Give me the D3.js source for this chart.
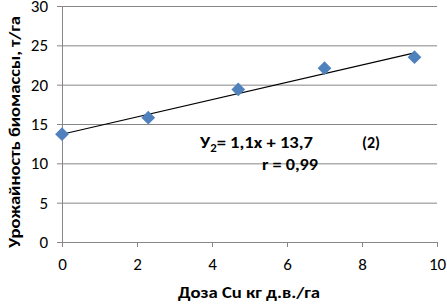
<!DOCTYPE html>
<html>
<head>
<meta charset="utf-8">
<script src="https://cdn.jsdelivr.net/npm/d3@7"></script>
<style>
  body { margin: 0; background: #fff; }
  svg text { font-family: Carlito, "Open Sans", "Noto Sans", sans-serif; }
</style>
</head>
<body>
<div id="chart"></div>
<script>
const doses = [0, 2.3, 4.7, 7.0, 9.4];
const yields = [13.7, 15.8, 19.4, 22.1, 23.5];
const xTicks = [0, 2, 4, 6, 8, 10];
const yTicks = [0, 5, 10, 15, 20, 25, 30];
const slope = 1.1;
const intercept = 13.7;

const width = 447, height = 304;
const margin = { top: 6, right: 10, bottom: 62, left: 62 };
const iw = 437 - margin.left;
const ih = 242 - margin.top;

const svg = d3.select('#chart').append('svg')
    .attr('width', width).attr('height', height);
const g = svg.append('g').attr('transform', `translate(${margin.left},${margin.top})`);

const x = d3.scaleLinear().domain([0, 10]).range([0, iw]);
const y = d3.scaleLinear().domain([0, 30]).range([ih, 0]);

// Gridlines
g.append('g')
    .call(d3.axisLeft(y).tickValues(yTicks).tickSize(-iw).tickFormat(''))
    .call((sel) => sel.selectAll('line').attr('stroke', '#878787'))
    .call((sel) => sel.select('.domain').remove());

// Axes
const styleAxis = (sel) => {
    sel.select('.domain').attr('stroke', '#878787');
    sel.selectAll('.tick line').attr('stroke', '#878787');
    sel.selectAll('.tick text').attr('fill', '#000').style('font-size', '17px');
};
g.append('g').attr('transform', `translate(0,${ih})`)
    .call(d3.axisBottom(x).tickValues(xTicks).tickSize(5).tickSizeOuter(0).tickPadding(11))
    .call(styleAxis);
g.append('g')
    .call(d3.axisLeft(y).tickValues(yTicks).tickSize(5).tickSizeOuter(0).tickPadding(9))
    .call(styleAxis);

// Trend line
const xs = d3.extent(doses);
g.append('line')
    .attr('x1', x(xs[0])).attr('y1', y(slope * xs[0] + intercept))
    .attr('x2', x(xs[1])).attr('y2', y(slope * xs[1] + intercept))
    .attr('stroke', '#000').attr('stroke-width', 1.2);

// Markers
const diamond = d3.symbol().type(d3.symbolDiamond2).size(120);
g.selectAll('path.pt').data(doses).enter().append('path')
    .attr('class', 'pt')
    .attr('d', diamond)
    .attr('transform', (d, i) => `translate(${x(d)},${y(yields[i])})`)
    .attr('fill', '#4f81bd');

// Equation
const eq = g.append('text').attr('x', 138).attr('y', 142)
    .attr('textLength', 113).attr('lengthAdjust', 'spacingAndGlyphs')
    .style('font-size', '16px').style('font-weight', 'bold');
eq.append('tspan').text('У');
eq.append('tspan').attr('dy', 4).style('font-size', '11px').text('2');
eq.append('tspan').attr('dy', -4).text('= 1,1x + 13,7');
g.append('text').attr('x', 300).attr('y', 142)
    .style('font-size', '16px').style('font-weight', 'bold').text('(2)');
g.append('text').attr('x', 200).attr('y', 164)
    .attr('textLength', 56).attr('lengthAdjust', 'spacingAndGlyphs')
    .style('font-size', '16px').style('font-weight', 'bold').text('r = 0,99');

// Axis titles
svg.append('text')
    .attr('x', 178).attr('y', 298)
    .attr('textLength', 142).attr('lengthAdjust', 'spacingAndGlyphs')
    .style('font-size', '15px').style('font-weight', 'bold')
    .text('Доза Cu кг д.в./га');
svg.append('text')
    .attr('transform', `translate(20,248) rotate(-90)`)
    .attr('textLength', 232).attr('lengthAdjust', 'spacingAndGlyphs')
    .style('font-size', '15px').style('font-weight', 'bold')
    .text('Урожайность биомассы, т/га');
</script>
</body>
</html>
